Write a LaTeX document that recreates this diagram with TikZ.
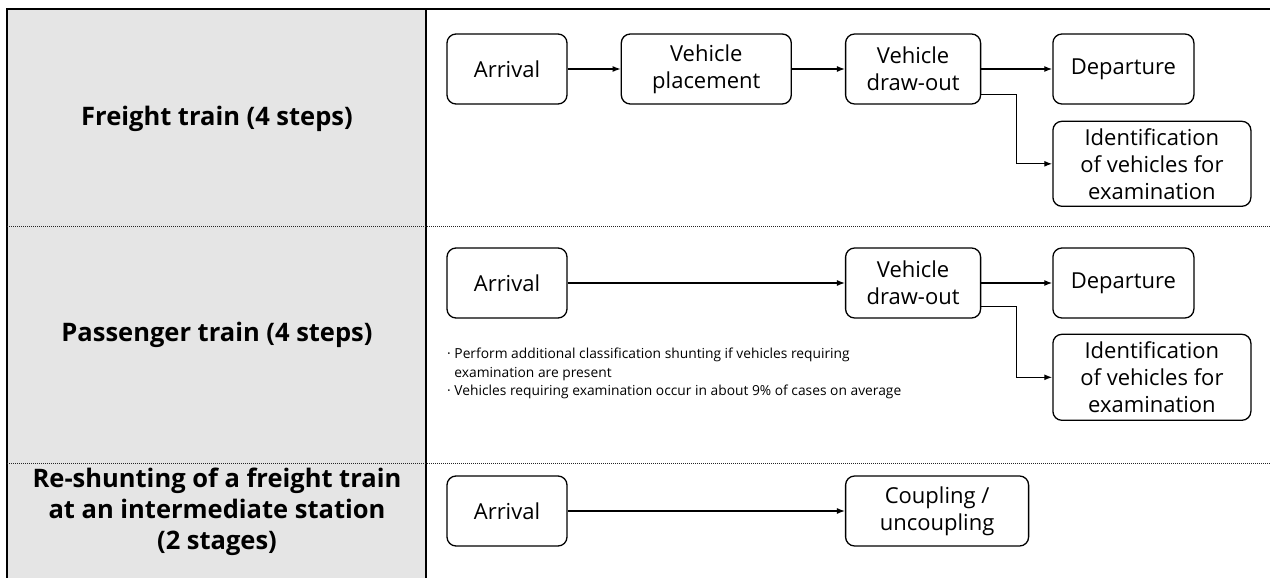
\documentclass[tikz,border=0pt]{standalone}
\usepackage{fontspec}
\setmainfont{Open Sans}
\usetikzlibrary{arrows.meta,positioning}
\definecolor{panelgray}{HTML}{E5E5E5}
\tikzset{
  stepbox/.style={draw=black, line width=1.3pt, rounded corners=9pt, align=center, inner sep=2pt, minimum height=70pt, font=\fontsize{22}{27}\selectfont},
  rowlabel/.style={align=center, font=\bfseries\fontsize{25.5}{31}\selectfont},
  note/.style={align=left, inner sep=0pt, font=\fontsize{13.8}{18.5}\selectfont},
  arrow/.style={-{Latex[length=8pt,width=6pt]}, line width=1.3pt},
  rowsep/.style={line width=0.8pt, dash pattern=on 1pt off 1pt, black!85}
}
\begin{document}
\begin{tikzpicture}[x=1pt, y=-1pt]
\useasboundingbox (0,0) rectangle (1270,578);
% table frame
\fill[panelgray] (7,9) rectangle (426,578);
\draw[line width=1.5pt] (7,578) -- (7,9) -- (1270,9);
\draw[line width=1.5pt] (426,9) -- (426,578);
\draw[rowsep] (7,226) -- (1270,226);
\draw[rowsep] (7,463) -- (1270,463);

% row labels
\node[rowlabel] (freight) at (217,119) {Freight train (4 steps)};
\node[rowlabel] (passenger) at (217,335) {Passenger train (4 steps)};
\node[rowlabel] (reshunt) at (217,512) {Re-shunting of a freight train\\at an intermediate station\\(2 stages)};

% freight train
\node[stepbox, minimum width=120pt] (fa) at (507,69) {Arrival};
\node[stepbox, minimum width=170pt, right=53pt of fa] (fp) {Vehicle\\placement};
\node[stepbox, minimum width=135pt, right=53pt of fp] (fd) {Vehicle\\draw-out};
\node[stepbox, minimum width=141pt, right=71pt of fd] (fdep) {Departure};
\node[stepbox, minimum width=198pt, minimum height=85pt, below=16pt of fdep.south west, anchor=north west] (fid) {Identification\\of vehicles for\\examination};
\draw[arrow] (fa) -- (fp);
\draw[arrow] (fp) -- (fd);
\draw[arrow] (fd) -- (fdep);
\draw[arrow] ([yshift=10pt]fd.south east) -- ++(35,0) |- (fid);

% passenger train
\node[stepbox, minimum width=120pt] (pa) at (507,283) {Arrival};
\node[stepbox, minimum width=135pt] (pd) at (fd |- pa) {Vehicle\\draw-out};
\node[stepbox, minimum width=141pt, right=71pt of pd] (pdep) {Departure};
\node[stepbox, minimum width=198pt, minimum height=86pt, below=15pt of pdep.south west, anchor=north west] (pid) {Identification\\of vehicles for\\examination};
\node[note, anchor=north west] (pnote) at (447,348) {· Perform additional classification shunting if vehicles requiring\\\phantom{·}\ examination are present\\· Vehicles requiring examination occur in about 9\% of cases on average};
\draw[arrow] (pa) -- (pd);
\draw[arrow] (pd) -- (pdep);
\draw[arrow] ([yshift=12pt]pd.south east) -- ++(35,0) |- (pid);

% re-shunting
\node[stepbox, minimum width=120pt] (ba) at (507,511) {Arrival};
\node[stepbox, minimum width=183pt, anchor=west] (bc) at (pd.west |- ba) {Coupling /\\uncoupling};
\draw[arrow] (ba) -- (bc);
\end{tikzpicture}
\end{document}
